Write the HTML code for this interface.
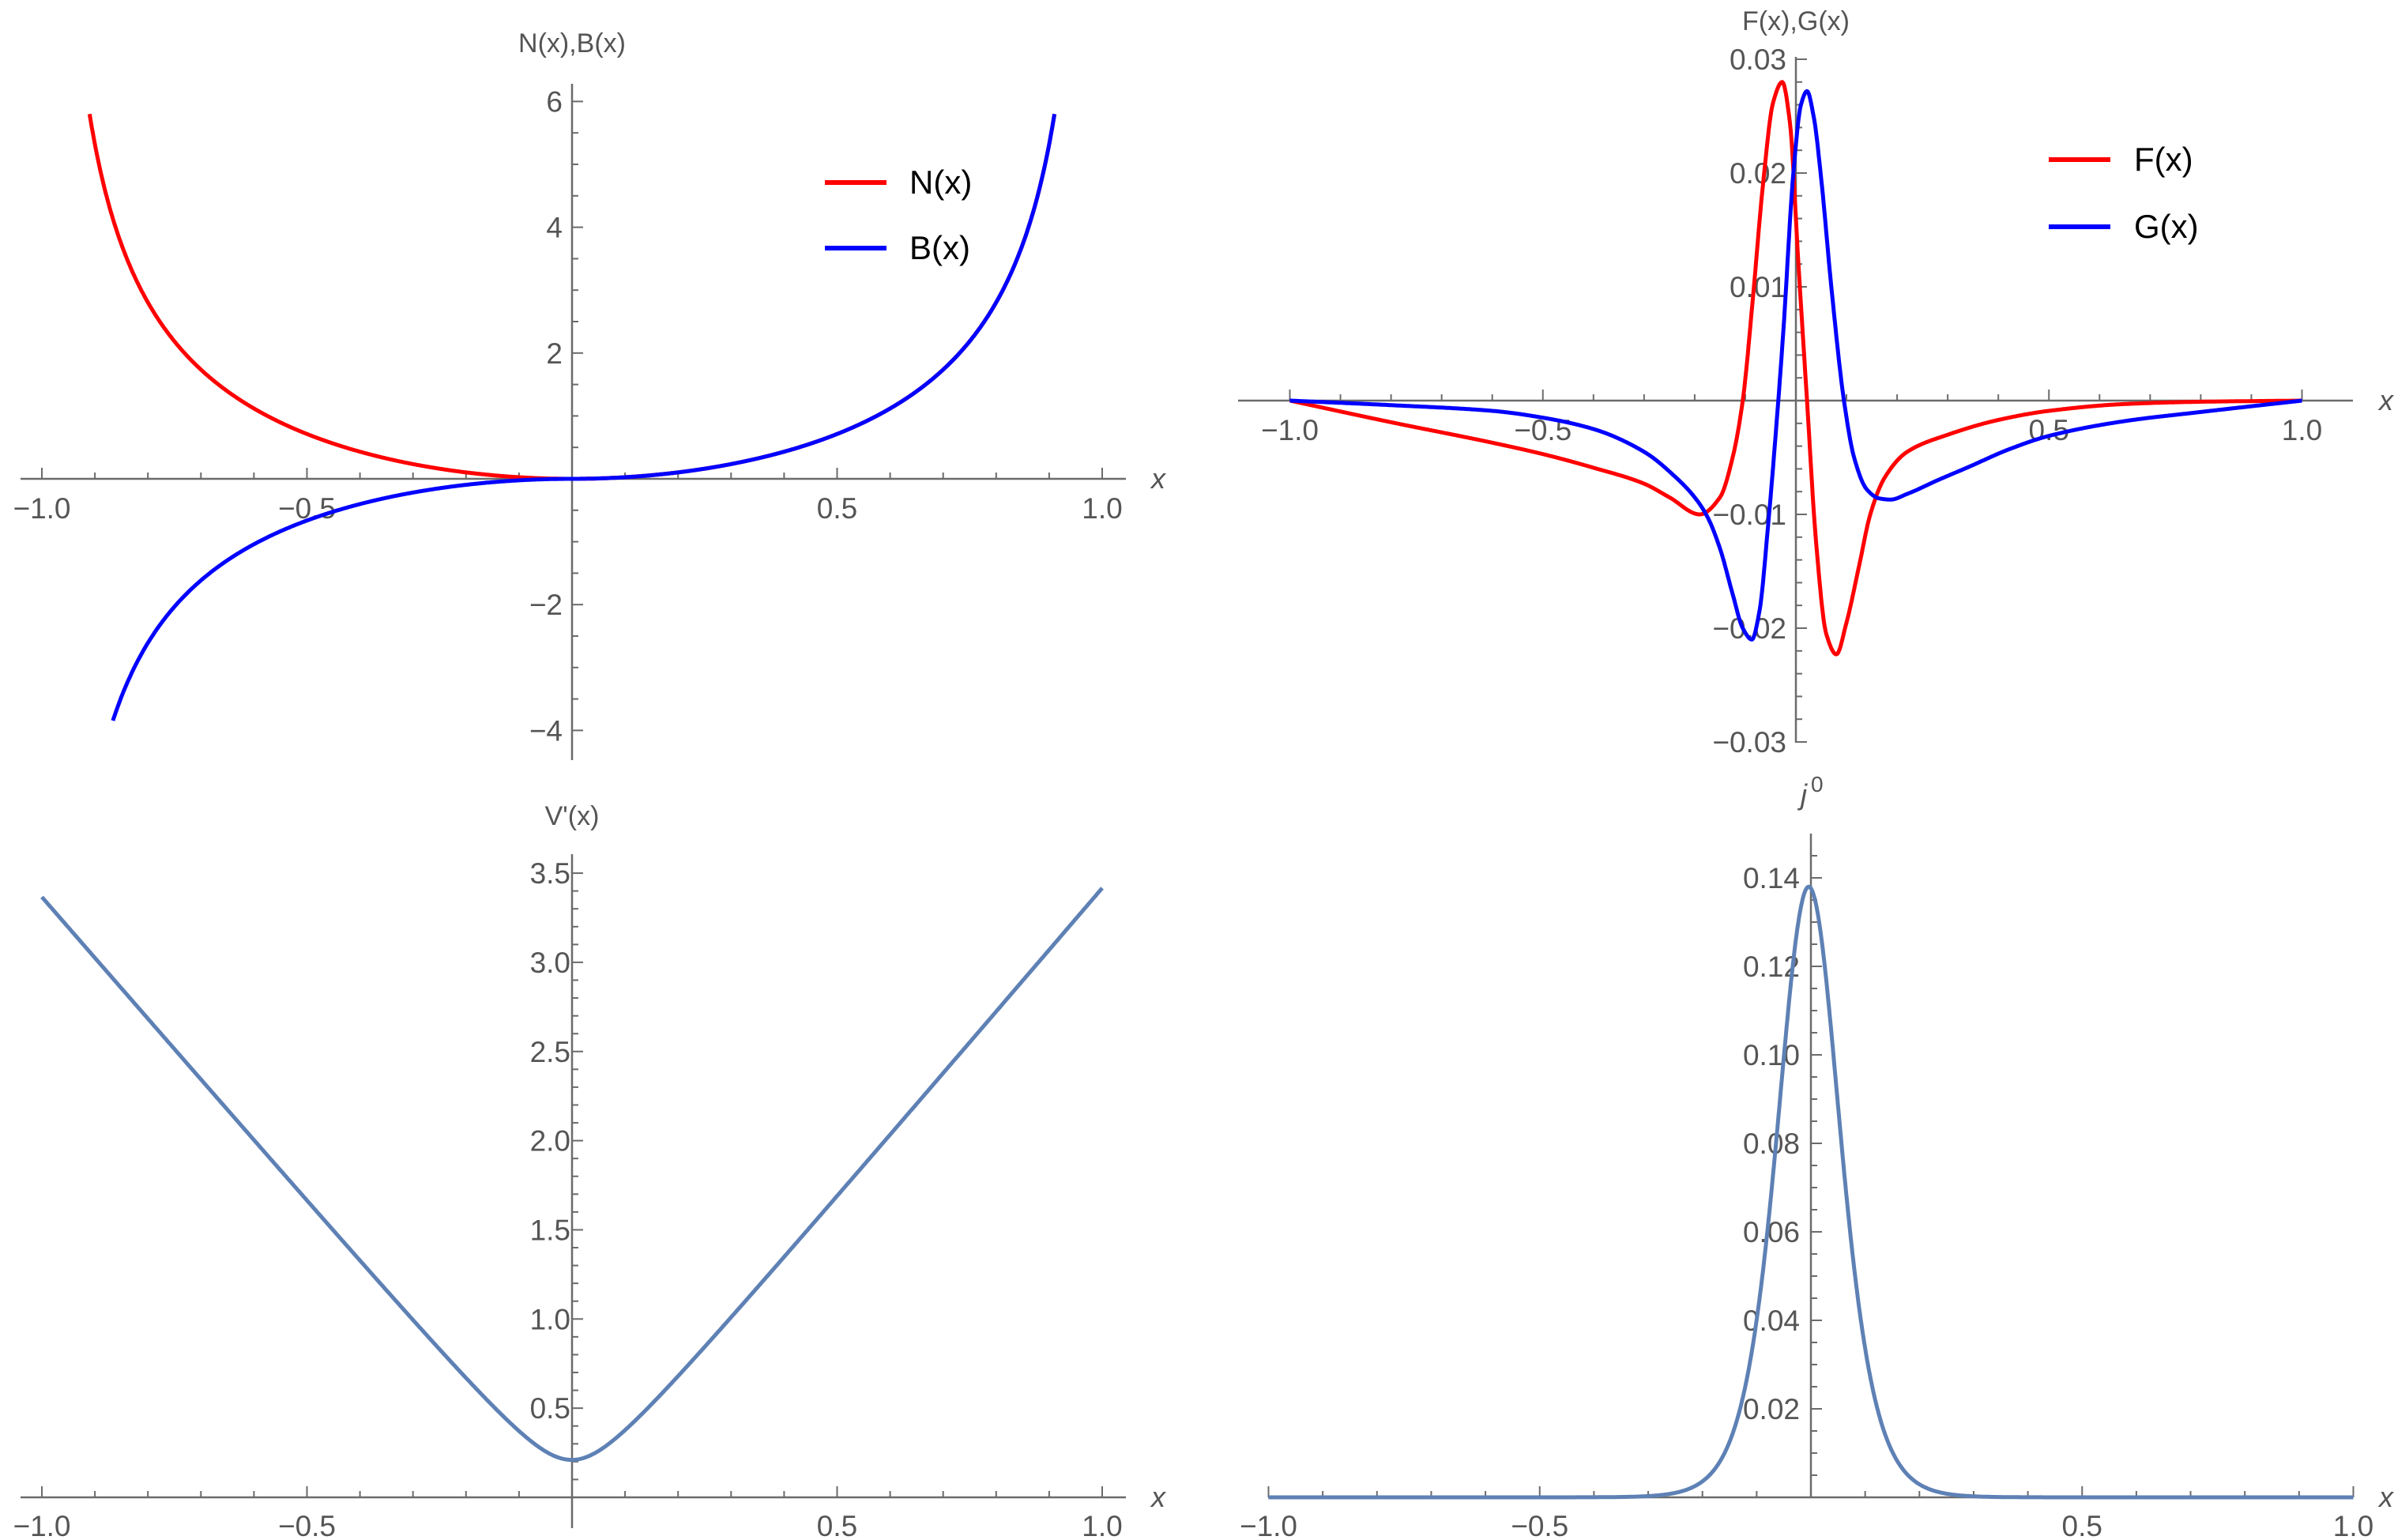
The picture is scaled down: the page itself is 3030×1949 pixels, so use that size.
<!DOCTYPE html>
<html><head><meta charset="utf-8"><style>
html,body{margin:0;padding:0;background:#fff;}
svg{display:block;}
text{font-family:"Liberation Sans Narrow","Liberation Sans",sans-serif;fill:#555;}
</style></head><body>
<svg id="s" width="3030" height="1949" xmlns="http://www.w3.org/2000/svg"></svg>
<script>
const S=document.getElementById('s');let out='';
function L(x1,y1,x2,y2,c,w){out+=`<line x1="${x1}" y1="${y1}" x2="${x2}" y2="${y2}" stroke="${c}" stroke-width="${w}"/>`;}
function T(x,y,t,a,fs,extra){out+=`<text x="${x}" y="${y}" text-anchor="${a}" font-size="${fs}" ${extra||''}>${t}</text>`;}
function pchip(tab){const n=tab.length,xs=tab.map(p=>p[0]),ys=tab.map(p=>p[1]);const h=[],d=[];
 for(let i=0;i<n-1;i++){h[i]=xs[i+1]-xs[i];d[i]=(ys[i+1]-ys[i])/h[i];}
 const m=new Array(n);m[0]=d[0];m[n-1]=d[n-2];
 for(let i=1;i<n-1;i++){if(d[i-1]*d[i]<=0)m[i]=0;else{const w1=2*h[i]+h[i-1],w2=h[i]+2*h[i-1];m[i]=(w1+w2)/(w1/d[i-1]+w2/d[i]);}}
 return function(x){let i=0;while(i<n-2&&x>xs[i+1])i++;const t=(x-xs[i])/h[i],t2=t*t,t3=t2*t;
  return (2*t3-3*t2+1)*ys[i]+(t3-2*t2+t)*h[i]*m[i]+(-2*t3+3*t2)*ys[i+1]+(t3-t2)*h[i]*m[i+1];};}
function axes(p){
 const X=v=>p.x0+v*p.sx, Y=v=>p.y0-v*p.sy, ax='#6b6b6b';
 L(p.xa0,p.y0,p.xa1,p.y0,ax,2.5);L(p.x0,p.ya0,p.x0,p.ya1,ax,2.5);
 for(let k=-10;k<=10;k++){const v=k/10;if(k==0)continue;const maj=k%5==0;L(X(v),p.y0,X(v),p.y0-(maj?14:8),ax,2);
  if(maj)T(X(v),p.y0+p.xlo,v.toFixed(1).replace('-','−'),'middle',37);}
 for(let k=p.yk0;k<=p.yk1;k++){if(k==0)continue;const v=k*p.ym;const maj=k%p.yn==0;L(p.x0,Y(v),p.x0+(maj?14:8),Y(v),ax,2);
  if(maj)T(p.x0+p.ylo,Y(v)+13,(v.toFixed(p.yd)).replace('-','−'),'end',37);}
 T(p.xlx,p.y0+12,'x','middle',36,'font-style="italic"');
 return [X,Y];}
function curve(X,Y,f,a,b,c,w){let d='';const n=1200;for(let i=0;i<=n;i++){const x=a+(b-a)*i/n;d+=(i?'L':'M')+X(x).toFixed(1)+','+Y(f(x)).toFixed(1);}
 out+=`<path d="${d}" fill="none" stroke="${c}" stroke-width="${w}" stroke-linejoin="round"/>`;}
// Panel 1
{const [X,Y]=axes({x0:724,y0:606,sx:671,sy:79.6,xa0:26,xa1:1425,ya0:106,ya1:962,yk0:-8,yk1:12,ym:0.5,yn:4,yd:0,xlo:50,ylo:-12,xlx:1466});
 const Bp=x=>2.22*x*x/Math.pow(1-x*x,0.65)+0.35*x*x*(1-x);
 curve(X,Y,x=>Bp(Math.abs(x)),-0.91,0.91,'#f00',5);
 curve(X,Y,x=>x<0?-0.93*Bp(-x):Bp(x),-0.866,0.91,'#00f',5);
 T(724,66,'N(x),B(x)','middle',34);
 L(1044,231,1122,231,'#f00',6);T(1151,245,'N(x)','start',42,'style="fill:#000"');
 L(1044,314,1122,314,'#00f',6);T(1151,328,'B(x)','start',42,'style="fill:#000"');}
// Panel 2
{const [X,Y]=axes({x0:2273,y0:507,sx:640.5,sy:14400,xa0:1567,xa1:2978,ya0:72,ya1:940,yk0:-15,yk1:15,ym:0.002,yn:5,yd:2,xlo:50,ylo:-12,xlx:3020});
 const F=pchip([[-1,0],[-0.8,-0.0019],[-0.6,-0.0037],[-0.5,-0.0047],[-0.4,-0.0059],[-0.3,-0.0073],[-0.25,-0.0085],[-0.19,-0.0100],[-0.15,-0.0085],[-0.125,-0.005],[-0.105,0],[-0.085,0.009],[-0.065,0.019],[-0.045,0.0262],[-0.027,0.028],[-0.012,0.0245],[0.005,0.012],[0.022,0],[0.04,-0.0125],[0.06,-0.0205],[0.08,-0.0223],[0.1,-0.0195],[0.125,-0.0145],[0.147,-0.010],[0.175,-0.0068],[0.22,-0.0045],[0.3,-0.0030],[0.4,-0.0017],[0.5,-0.0009],[0.65,-0.0003],[0.8,-0.0001],[1,0]]);
 const G=pchip([[-1,0],[-0.8,-0.0004],[-0.6,-0.0009],[-0.5,-0.0015],[-0.4,-0.0025],[-0.3,-0.0045],[-0.236,-0.0068],[-0.2,-0.0085],[-0.175,-0.0102],[-0.15,-0.013],[-0.125,-0.0170],[-0.105,-0.0200],[-0.087,-0.021],[-0.072,-0.0185],[-0.055,-0.011],[-0.04,-0.003],[-0.025,0.006],[-0.005,0.020],[0.01,0.026],[0.022,0.0272],[0.035,0.025],[0.05,0.0195],[0.07,0.010],[0.095,0],[0.115,-0.005],[0.14,-0.0078],[0.165,-0.0086],[0.187,-0.0087],[0.22,-0.0082],[0.28,-0.0070],[0.343,-0.0058],[0.42,-0.0043],[0.5,-0.0031],[0.65,-0.0018],[0.8,-0.001],[1,0]]);
 curve(X,Y,F,-1,1,'#f00',5);curve(X,Y,G,-1,1,'#00f',5);
 T(2273,38,'F(x),G(x)','middle',34);
 L(2593,202,2671,202,'#f00',6);T(2701,216,'F(x)','start',42,'style="fill:#000"');
 L(2593,287,2671,287,'#00f',6);T(2701,301,'G(x)','start',42,'style="fill:#000"');}
// Panel 3
{const [X,Y]=axes({x0:724,y0:1895,sx:671,sy:225.7,xa0:26,xa1:1425,ya0:1081,ya1:1934,yk0:0,yk1:35,ym:0.1,yn:5,yd:1,xlo:49,ylo:-2,xlx:1466});
 curve(X,Y,x=>Math.sqrt(0.28*0.28+(3.45*x)*(3.45*x))-0.07+0.025*x,-1,1,'#5e81b5',5);
 T(724,1044,"V'(x)",'middle',34);}
// Panel 4
{const [X,Y]=axes({x0:2292,y0:1895,sx:686.5,sy:5600,xa0:1605,xa1:2978,ya0:1055,ya1:1895,yk0:0,yk1:29,ym:0.005,yn:4,yd:2,xlo:49,ylo:-14,xlx:3020});
 curve(X,Y,x=>{const c=Math.cosh(12.8*(x+0.004));return 0.138/(c*c);},-1,1,'#5e81b5',5);
 T(2283,1018,'j','middle',36,'font-style="italic"');T(2292,1002,'0','start',28);}
S.innerHTML=out;
</script>
</body></html>
